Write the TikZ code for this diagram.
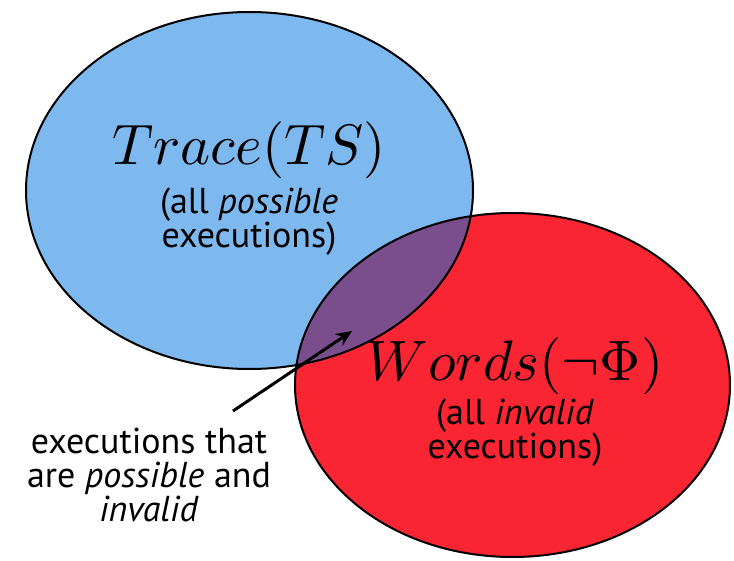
\documentclass[tikz,border=0pt]{standalone}
\usepackage{fontspec}
\setmainfont{PT Sans}
\usetikzlibrary{arrows.meta}
\definecolor{blueC}{RGB}{125,184,238}
\definecolor{redC}{RGB}{249,37,51}
\definecolor{purpleC}{RGB}{122,78,140}
\tikzset{
  outline/.style={draw=black,line width=2pt},
  mathlbl/.style={inner sep=0pt},
  sanslbl/.style={font=\fontsize{36}{34}\selectfont,align=center,inner sep=0pt},
  pointer/.style={line width=3pt,-{Stealth[length=16pt,width=14pt]}}
}
\begin{document}
\begin{tikzpicture}[x=1pt,y=-1pt]
\useasboundingbox (0,0) rectangle (734,561);
\fill[blueC] (249.5,190.5) ellipse [x radius=223.5, y radius=178.5];
\fill[redC] (512.5,385) ellipse [x radius=217.5, y radius=172];
\begin{scope}
  \clip (249.5,190.5) ellipse [x radius=223.5, y radius=178.5];
  \fill[purpleC] (512.5,385) ellipse [x radius=217.5, y radius=172];
\end{scope}
\draw[outline] (249.5,190.5) ellipse [x radius=223.5, y radius=178.5];
\draw[outline] (512.5,385) ellipse [x radius=217.5, y radius=172];

\node[mathlbl,anchor=base] (trace) at (249,165) {\scalebox{5.7}{$Trace(TS)$}};
\node[sanslbl] (tracesub) at (249,222) {(all \textit{possible}\\executions)};
\node[mathlbl,anchor=base] (words) at (515,381) {\scalebox{5.7}{$Words(\neg\Phi)$}};
\node[sanslbl] (wordssub) at (515,433) {(all \textit{invalid}\\executions)};
\node[sanslbl] (note) at (149,475) {executions that\\are \textit{possible} and\\\textit{invalid}};

\coordinate (tail) at (233,411);
\coordinate (tip) at (352,331);
\draw[pointer] (tail) -- (tip);
\end{tikzpicture}
\end{document}
